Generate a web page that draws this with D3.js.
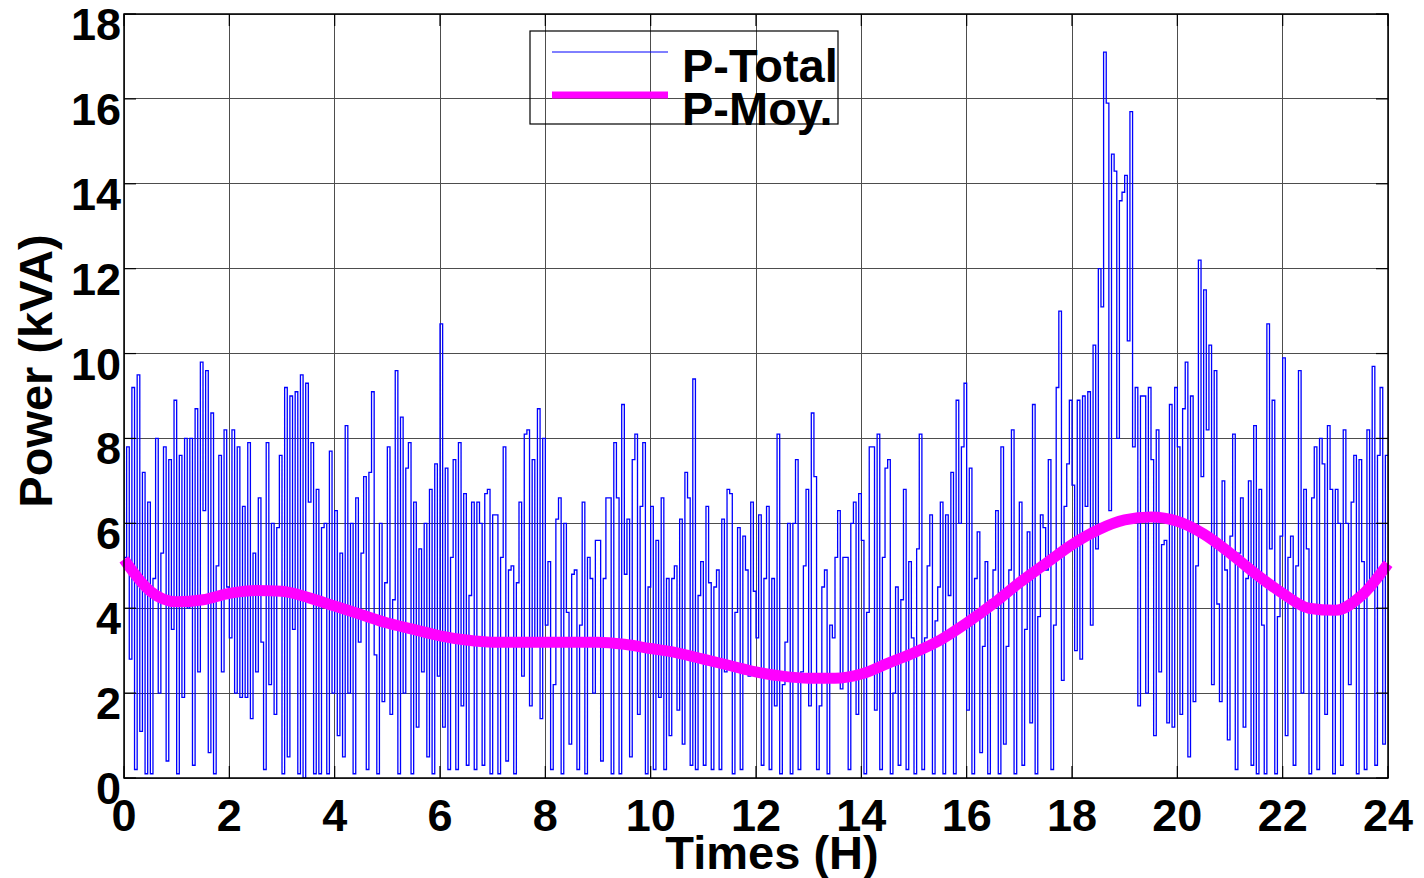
<!DOCTYPE html>
<html>
<head>
<meta charset="utf-8">
<script src="https://cdn.jsdelivr.net/npm/d3@7"></script>
<style>
  html, body { margin: 0; padding: 0; background: #fff; }
  svg { display: block; }
  text { font-family: "Liberation Sans", Arial, sans-serif; font-weight: bold; fill: #000; }
</style>
</head>
<body>
<svg id="chart" width="1424" height="878"></svg>
<script>
// ---------------- DATA ----------------
const stepHours = 0.05; // sampling step of P-Total (3 minutes)

const pTotal = [
  // 0-2 h
  5.2, 7.8, 2.8, 9.2, 0.2, 9.5, 1.1, 7.2, 0.1, 6.5, 0.1, 4.7, 8.0, 2.0, 5.3, 7.8, 0.4, 7.5, 3.5, 8.9,
  0.1, 7.6, 1.9, 8.0, 4.0, 8.0, 0.3, 8.7, 2.5, 9.8, 6.3, 9.6, 0.6, 8.6, 0.1, 5.0, 7.6, 2.5, 8.2, 4.5,
  // 2-4 h
  3.3, 8.2, 2.0, 7.8, 1.9, 6.4, 1.9, 7.9, 1.4, 5.3, 2.5, 6.6, 3.2, 0.2, 7.9, 2.2, 6.0, 1.5, 5.9, 7.6,
  0.1, 9.2, 0.5, 9.0, 3.5, 9.1, 0.1, 9.5, 0.0, 9.3, 6.5, 7.9, 0.1, 6.8, 0.1, 5.9, 6.0, 0.1, 7.7, 2.0,
  // 4-6 h
  6.3, 1.0, 5.3, 0.5, 8.3, 2.0, 6.0, 0.1, 6.6, 3.2, 5.3, 7.1, 0.2, 7.2, 9.1, 2.9, 0.1, 6.0, 1.8, 4.6,
  7.8, 1.5, 4.2, 9.6, 0.1, 8.5, 2.0, 7.3, 7.9, 0.1, 6.5, 1.2, 5.4, 2.5, 6.0, 0.5, 6.8, 0.1, 7.4, 2.4,
  // 6-8 h
  10.7, 1.2, 7.3, 0.2, 5.2, 7.5, 0.2, 7.9, 1.7, 6.7, 0.3, 4.3, 6.5, 0.2, 6.5, 6.0, 0.3, 6.7, 6.8, 0.1,
  6.2, 6.2, 0.1, 5.2, 7.8, 0.4, 4.9, 5.0, 0.1, 4.6, 6.5, 2.4, 8.1, 8.2, 1.7, 7.5, 3.2, 8.7, 1.4, 8.0,
  // 8-10 h
  3.6, 5.1, 0.2, 2.2, 6.1, 6.6, 0.1, 6.0, 3.9, 0.8, 4.8, 4.9, 0.2, 3.6, 6.5, 0.1, 5.2, 4.7, 2.0, 5.6,
  5.6, 0.4, 4.7, 6.6, 6.6, 0.1, 7.9, 6.6, 0.1, 8.8, 4.8, 6.1, 0.5, 7.5, 8.1, 1.5, 6.4, 7.9, 0.1, 4.5,
  // 10-12 h
  6.4, 0.2, 5.6, 1.9, 6.6, 0.2, 4.7, 1.0, 4.7, 5.0, 1.6, 6.1, 0.8, 7.2, 6.6, 0.3, 9.4, 0.2, 4.3, 5.1,
  0.3, 6.4, 4.6, 0.2, 4.5, 4.9, 0.2, 6.1, 2.5, 6.8, 6.7, 0.1, 3.9, 5.9, 0.2, 5.7, 4.9, 2.4, 6.5, 4.4,
  // 12-14 h
  3.3, 6.2, 0.3, 4.7, 6.4, 0.2, 4.7, 1.7, 8.1, 0.1, 2.2, 3.2, 6.0, 0.1, 6.0, 7.5, 0.2, 2.5, 5.0, 6.8,
  1.7, 8.6, 7.1, 0.2, 1.7, 4.5, 4.9, 0.1, 3.6, 3.3, 5.2, 6.3, 2.1, 5.2, 5.2, 0.2, 6.0, 6.5, 1.5, 6.7,
  // 14-16 h
  5.6, 0.1, 3.9, 7.8, 7.8, 1.6, 8.1, 0.2, 5.2, 7.3, 7.5, 0.1, 2.0, 4.5, 0.3, 4.2, 6.8, 0.2, 5.1, 3.3,
  0.1, 5.4, 8.1, 0.2, 3.3, 5.0, 6.2, 0.1, 3.7, 4.5, 6.5, 0.1, 6.2, 4.3, 7.2, 0.1, 8.9, 6.0, 7.8, 9.3,
  // 16-18 h
  1.6, 7.3, 0.1, 4.7, 5.8, 0.6, 3.1, 5.1, 0.1, 4.2, 4.9, 6.3, 0.1, 7.8, 0.8, 3.1, 4.9, 8.2, 0.1, 4.5,
  6.5, 0.3, 3.5, 5.8, 1.3, 8.8, 0.1, 3.8, 6.2, 5.9, 4.9, 7.5, 0.2, 3.6, 9.2, 11.0, 2.3, 6.4, 7.4, 8.9,
  // 18-20 h
  6.9, 3.0, 8.9, 2.8, 9.0, 6.4, 9.1, 3.6, 10.2, 5.4, 12.0, 11.1, 17.1, 15.9, 6.3, 14.7, 14.3, 8.0, 13.6, 13.8,
  14.2, 10.3, 15.7, 7.8, 9.2, 1.7, 9.0, 9.0, 2.0, 9.2, 7.5, 1.0, 8.2, 2.5, 5.5, 5.6, 1.3, 8.8, 1.2, 9.2,
  // 20-22 h
  7.8, 1.5, 8.7, 9.8, 0.5, 9.0, 1.8, 5.0, 12.2, 7.1, 11.5, 8.2, 10.2, 2.2, 9.6, 4.1, 1.8, 7.0, 4.9, 0.9,
  5.7, 8.1, 0.2, 5.3, 6.6, 1.2, 4.7, 7.0, 0.3, 8.3, 0.1, 6.8, 3.6, 0.1, 10.7, 5.4, 8.9, 0.1, 3.8, 5.7,
  // 22-24 h
  9.9, 1.0, 5.2, 5.7, 0.3, 5.0, 9.6, 2.0, 6.8, 5.4, 0.1, 6.6, 7.8, 0.2, 8.0, 7.4, 1.5, 8.3, 6.8, 0.1,
  6.8, 6.0, 0.3, 8.2, 6.0, 2.2, 6.5, 7.6, 0.1, 7.5, 5.1, 0.2, 8.2, 4.5, 9.7, 0.3, 7.6, 9.2, 0.8, 7.6,
  7.6
];

const moyHours = [0, 0.5, 1, 1.5, 2, 2.5, 3, 3.5, 4, 4.5, 5, 5.5, 6, 6.5, 7, 7.5, 8, 8.5, 9, 9.5,
  10, 10.5, 11, 11.5, 12, 12.5, 13, 13.5, 14, 14.5, 15, 15.5, 16, 16.5, 17, 17.5, 18, 18.5, 19, 19.5,
  20, 20.5, 21, 21.5, 22, 22.5, 23, 23.5, 24];
const pMoy = [5.15, 4.4, 4.15, 4.2, 4.35, 4.42, 4.4, 4.25, 4.05, 3.85, 3.65, 3.5, 3.35, 3.25, 3.2, 3.2,
  3.2, 3.2, 3.2, 3.15, 3.05, 2.95, 2.8, 2.65, 2.5, 2.4, 2.35, 2.35, 2.45, 2.7, 2.95, 3.25, 3.65, 4.1,
  4.6, 5.05, 5.5, 5.85, 6.08, 6.15, 6.05, 5.75, 5.3, 4.8, 4.35, 4.0, 3.95, 4.3, 5.05];

const xTicks = [0, 2, 4, 6, 8, 10, 12, 14, 16, 18, 20, 22, 24];
const yTicks = [0, 2, 4, 6, 8, 10, 12, 14, 16, 18];
const legendLabels = ["P-Total", "P-Moy."];
const xTitle = "Times (H)";
const yTitle = "Power (kVA)";

// ---------------- DRAW ----------------
const svg = d3.select("#chart");
const L = 124, R = 1388, T = 14, B = 778;
const x = d3.scaleLinear().domain([0, 24]).range([L, R]);
const y = d3.scaleLinear().domain([0, 18]).range([B, T]);

svg.append("defs").append("clipPath").attr("id", "clip")
  .append("rect").attr("x", L).attr("y", T).attr("width", R - L).attr("height", B - T);

// grid
const grid = svg.append("g");
grid.selectAll("line.gx").data(xTicks).join("line")
  .attr("x1", d => x(d)).attr("x2", d => x(d)).attr("y1", T).attr("y2", B)
  .attr("stroke", "#4d4d4d").attr("stroke-width", 1).attr("shape-rendering", "crispEdges");
grid.selectAll("line.gy").data(yTicks).join("line")
  .attr("x1", L).attr("x2", R).attr("y1", d => y(d)).attr("y2", d => y(d))
  .attr("stroke", "#4d4d4d").attr("stroke-width", 1).attr("shape-rendering", "crispEdges");

// P-Total
const totalLine = d3.line()
  .x((d, i) => x(i * stepHours))
  .y(d => y(d))
  .curve(d3.curveStepAfter);
svg.append("path").datum(pTotal)
  .attr("clip-path", "url(#clip)")
  .attr("d", totalLine)
  .attr("fill", "none").attr("stroke", "#0000ff").attr("stroke-width", 1.3);

// P-Moy
const moyLine = d3.line()
  .x((d, i) => x(moyHours[i]))
  .y(d => y(d))
  .curve(d3.curveMonotoneX);
svg.append("path").datum(pMoy)
  .attr("d", moyLine)
  .attr("fill", "none").attr("stroke", "#ff00ff").attr("stroke-width", 11)
  .attr("stroke-linejoin", "round");

// Axes box
svg.append("rect").attr("x", L).attr("y", T).attr("width", R - L).attr("height", B - T)
  .attr("fill", "none").attr("stroke", "#000").attr("stroke-width", 1.5);

// ticks (inward, all four sides)
const tk = 12;
const ticks = svg.append("g").attr("stroke", "#000").attr("stroke-width", 1.2);
xTicks.forEach(d => {
  ticks.append("line").attr("x1", x(d)).attr("x2", x(d)).attr("y1", B).attr("y2", B - tk);
  ticks.append("line").attr("x1", x(d)).attr("x2", x(d)).attr("y1", T).attr("y2", T + tk);
});
yTicks.forEach(d => {
  ticks.append("line").attr("x1", L).attr("x2", L + tk).attr("y1", y(d)).attr("y2", y(d));
  ticks.append("line").attr("x1", R).attr("x2", R - tk).attr("y1", y(d)).attr("y2", y(d));
});

// tick labels
svg.append("g").selectAll("text").data(xTicks).join("text")
  .attr("x", d => x(d)).attr("y", B + 53)
  .attr("text-anchor", "middle").attr("font-size", 45)
  .text(d => d);
svg.append("g").selectAll("text").data(yTicks).join("text")
  .attr("x", 121).attr("y", d => y(d) + 26)
  .attr("text-anchor", "end").attr("font-size", 45)
  .text(d => d);

// axis titles
svg.append("text").attr("x", 772).attr("y", 869)
  .attr("text-anchor", "middle").attr("font-size", 47).text(xTitle);
svg.append("text").attr("transform", "translate(52,371) rotate(-90)")
  .attr("text-anchor", "middle").attr("font-size", 47).text(yTitle);

// legend
const lg = svg.append("g");
lg.append("rect").attr("x", 530).attr("y", 31).attr("width", 308).attr("height", 93)
  .attr("fill", "none").attr("stroke", "#000").attr("stroke-width", 1.2);
lg.append("line").attr("x1", 552).attr("x2", 668).attr("y1", 52).attr("y2", 52)
  .attr("stroke", "#0000ff").attr("stroke-width", 1);
lg.append("line").attr("x1", 552).attr("x2", 668).attr("y1", 95).attr("y2", 95)
  .attr("stroke", "#ff00ff").attr("stroke-width", 7);
lg.selectAll("text").data(legendLabels).join("text")
  .attr("x", 682).attr("y", (d, i) => 82 + i * 43)
  .attr("font-size", 47).text(d => d);
</script>
</body>
</html>
